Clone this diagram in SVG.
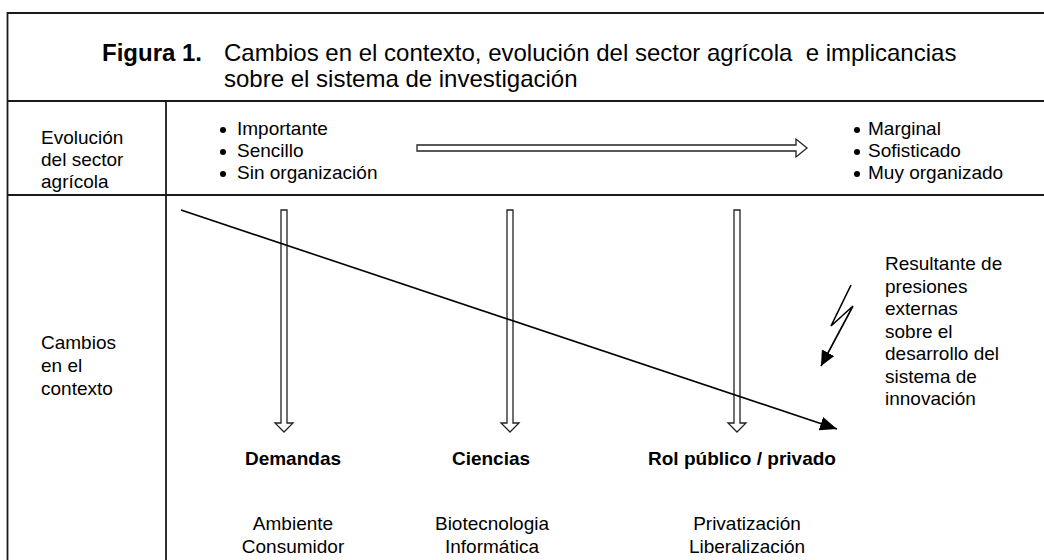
<svg xmlns="http://www.w3.org/2000/svg" width="1044" height="560" viewBox="0 0 1044 560">
<style>
.t{font-family:"Liberation Sans",Arial,sans-serif;font-size:19px;fill:#000;white-space:pre}
.b{font-weight:bold}
.ti{font-size:24px}
.m{text-anchor:middle}
.frame{stroke:#1a1a1a;stroke-width:1.8;fill:none}
.hollow{fill:#fff;stroke:#222;stroke-width:1.3}
.ln{stroke:#000;stroke-width:1.6;fill:none}
</style>
<defs>
<marker id="ah" markerUnits="userSpaceOnUse" markerWidth="18" markerHeight="14" refX="17" refY="7" orient="auto"><path d="M0,0 L17,7 L0,14 z" fill="#000"/></marker>
<marker id="ah2" markerUnits="userSpaceOnUse" markerWidth="16" markerHeight="14" refX="15" refY="7" orient="auto"><path d="M0,0 L15,7 L0,14 z" fill="#000"/></marker>
</defs>
<rect x="0" y="0" width="1044" height="560" fill="#fff"/>
<g id="frame">
<path class="frame" d="M1044,13 H7.5 V560 M7.5,101 H1044 M7.5,195 H1044 M166,101 V560"/>
</g>
<g id="title">
<text class="t ti b" x="102" y="61">Figura 1.</text>
<text class="t ti" x="224" y="61">Cambios en el contexto, evolución del sector agrícola  e implicancias</text>
<text class="t ti" x="224" y="87">sobre el sistema de investigación</text>
</g>
<g id="row-evolucion">
<text class="t" x="41" y="144">Evolución</text>
<text class="t" x="41" y="166">del sector</text>
<text class="t" x="41" y="188">agrícola</text>
</g>
<g id="row-cambios">
<text class="t" x="41" y="349">Cambios</text>
<text class="t" x="41" y="372">en el</text>
<text class="t" x="41" y="395">contexto</text>
</g>
<g id="estado-inicial">
<circle cx="223" cy="130" r="3"/><circle cx="223" cy="152" r="3"/><circle cx="223" cy="174" r="3"/>
<text class="t" x="237" y="135">Importante</text>
<text class="t" x="237" y="157">Sencillo</text>
<text class="t" x="237" y="179">Sin organización</text>
</g>
<g id="estado-final">
<circle cx="857" cy="130" r="3"/><circle cx="857" cy="152" r="3"/><circle cx="857" cy="174" r="3"/>
<text class="t" x="868" y="135">Marginal</text>
<text class="t" x="868" y="157">Sofisticado</text>
<text class="t" x="868" y="179">Muy organizado</text>
</g>
<g id="demandas">
<text class="t b m" x="293" y="465">Demandas</text>
<text class="t m" x="293" y="530">Ambiente</text>
<text class="t m" x="293" y="553">Consumidor</text>
</g>
<g id="ciencias">
<text class="t b m" x="491" y="465">Ciencias</text>
<text class="t m" x="492" y="530">Biotecnologia</text>
<text class="t m" x="492" y="553">Informática</text>
</g>
<g id="rol">
<text class="t b m" x="742" y="465">Rol público / privado</text>
<text class="t m" x="747" y="530">Privatización</text>
<text class="t m" x="747" y="553">Liberalización</text>
</g>
<g id="resultante">
<text class="t" x="885" y="270">Resultante de</text>
<text class="t" x="885" y="292.5">presiones</text>
<text class="t" x="885" y="315">externas</text>
<text class="t" x="885" y="337.5">sobre el</text>
<text class="t" x="885" y="360">desarrollo del</text>
<text class="t" x="885" y="382.5">sistema de</text>
<text class="t" x="885" y="405">innovación</text>
</g>
<g id="connectors">
<polygon class="hollow" points="417,145 796,145 796,139 807,148 796,157 796,151 417,151"/>
<polygon class="hollow" points="281,210 287,210 287,423 293,423 284,432 275,423 281,423"/>
<polygon class="hollow" points="507,210 513,210 513,423 519,423 510,432 501,423 507,423"/>
<polygon class="hollow" points="734,210 740,210 740,423 746,423 737,432 728,423 734,423"/>
<line class="ln" x1="181" y1="210" x2="837" y2="429" marker-end="url(#ah)"/>
<polyline class="ln" points="851,285 831,326 853,306 821,366" marker-end="url(#ah2)"/>
</g>
</svg>
